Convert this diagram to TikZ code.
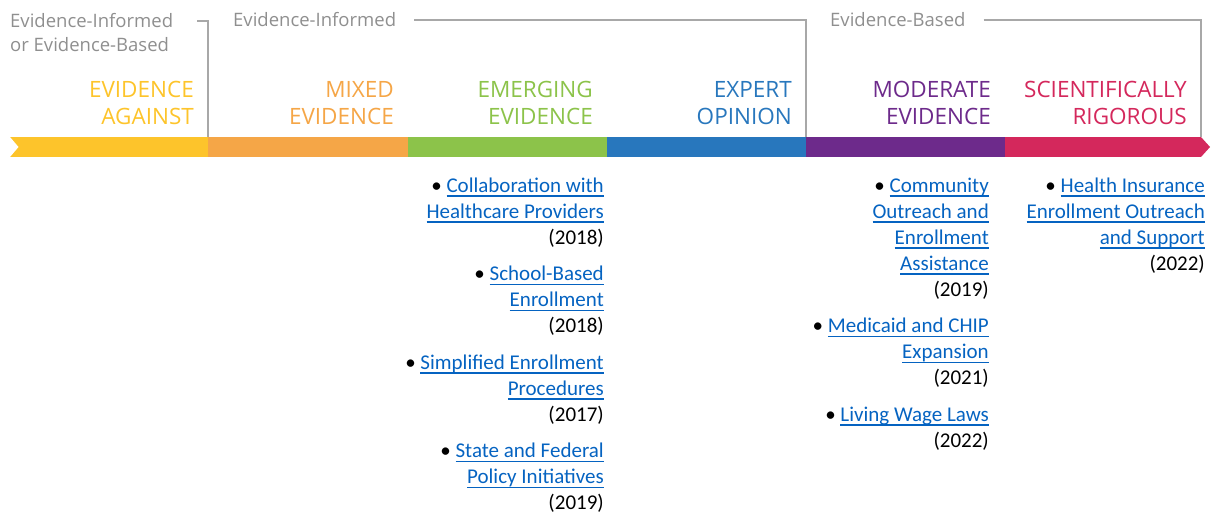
\documentclass[tikz,border=0pt]{standalone}
\usepackage{fontspec}
\setmainfont{Carlito}
\newfontfamily\headfont{Open Sans}
\usetikzlibrary{positioning}

\definecolor{barYellow}{HTML}{FDC42B}
\definecolor{barOrange}{HTML}{F5A647}
\definecolor{barGreen}{HTML}{8CC34A}
\definecolor{barBlue}{HTML}{2877BD}
\definecolor{barPurple}{HTML}{6D2A8B}
\definecolor{barRed}{HTML}{D4285C}
\definecolor{linkBlue}{HTML}{0563C1}
\definecolor{headGray}{HTML}{8F8F8F}
\definecolor{lineGray}{HTML}{A8A8A8}

% blue link text with a rule under it
\newcommand\linkline[1]{\textcolor{linkBlue}{\setbox0\hbox{#1}\rlap{\rule[-4.5pt]{\wd0}{1.4pt}}\box0}}

\tikzset{
  seg/.style={anchor=north west, minimum height=20pt, inner sep=0, outer sep=0},
  grade/.style={font=\headfont\fontsize{22.5}{27}\selectfont, align=right, anchor=north east, inner sep=0},
  tier/.style={font=\headfont\fontsize{18.5}{24}\selectfont, text=headGray, align=left, inner sep=0},
  bracket/.style={draw=lineGray, line width=1.4pt},
  entry/.style={font=\fontsize{21}{26}\selectfont, align=right, anchor=north east, inner sep=0},
}

\begin{document}
\begin{tikzpicture}[x=1pt, y=-1pt]
  \useasboundingbox (0,0) rectangle (1212,513);

  % the bar, one segment per level
  \foreach \i/\c/\xa/\xb in {1/barYellow/10/208, 2/barOrange/208/408, 3/barGreen/408/607,
      4/barBlue/607/806, 5/barPurple/806/1005, 6/barRed/1005/1201} {
    \pgfmathsetmacro\w{\xb-\xa}
    \node[seg, fill=\c, minimum width=\w pt] (seg\i) at (\xa,137) {};
  }
  \fill[white] (seg1.north west) -- ([xshift=8.5pt]seg1.west) -- (seg1.south west) -- cycle;
  \fill[barRed] (seg6.north east) -- ([xshift=9pt]seg6.east) -- (seg6.south east) -- cycle;

  % level names above the bar
  \foreach \i/\c/\txt in {1/barYellow/{\strut EVIDENCE\\AGAINST}, 2/barOrange/{\strut MIXED\\EVIDENCE},
      3/barGreen/{\strut EMERGING\\EVIDENCE}, 4/barBlue/{\strut EXPERT\\OPINION},
      5/barPurple/{\strut MODERATE\\EVIDENCE}, 6/barRed/{\strut SCIENTIFICALLY\\RIGOROUS}} {
    \node[grade, text=\c] (lab\i) at ([shift={(-14,-59)}]seg\i.north east) {\txt};
  }

  % groups of levels
  \node[tier, anchor=north west] (tierA) at (10,10.2) {\strut Evidence-Informed\\or Evidence-Based};
  \node[tier, anchor=base west] (tierB) at (233,27) {Evidence-Informed};
  \node[tier, anchor=base west] (tierC) at (830,27) {Evidence-Based};
  \coordinate (brA) at (197,21);
  \draw[bracket] (brA) -| (seg1.north east);
  \draw[bracket] (tierB.east) ++(18,0) -| (seg4.north east);
  \draw[bracket] (tierC.east) ++(18,0) -| (seg6.north east);

  % emerging evidence
  \node[entry] (emg1) at (604,173.8)
    {\strut\textbullet\ \linkline{Collaboration with}\\\linkline{Healthcare Providers}\\(2018)\strut};
  \node[entry, below=10pt of emg1.south east, anchor=north east] (emg2)
    {\strut\textbullet\ \linkline{School-Based}\\\linkline{Enrollment}\\(2018)\strut};
  \node[entry, below=10pt of emg2.south east, anchor=north east] (emg3)
    {\strut\textbullet\ \linkline{Simplified Enrollment}\\\linkline{Procedures}\\(2017)\strut};
  \node[entry, below=10pt of emg3.south east, anchor=north east] (emg4)
    {\strut\textbullet\ \linkline{State and Federal}\\\linkline{Policy Initiatives}\\(2019)\strut};

  % moderate evidence
  \node[entry] (mod1) at (989,173.8)
    {\strut\textbullet\ \linkline{Community}\\\linkline{Outreach and}\\\linkline{Enrollment}\\\linkline{Assistance}\\(2019)\strut};
  \node[entry, below=10pt of mod1.south east, anchor=north east] (mod2)
    {\strut\textbullet\ \linkline{Medicaid and CHIP}\\\linkline{Expansion}\\(2021)\strut};
  \node[entry, below=10pt of mod2.south east, anchor=north east] (mod3)
    {\strut\textbullet\ \linkline{Living Wage Laws}\\(2022)\strut};

  % scientifically rigorous
  \node[entry] (sci1) at (1205,173.8)
    {\strut\textbullet\ \linkline{Health Insurance}\\\linkline{Enrollment Outreach}\\\linkline{and Support}\\(2022)\strut};
\end{tikzpicture}
\end{document}
